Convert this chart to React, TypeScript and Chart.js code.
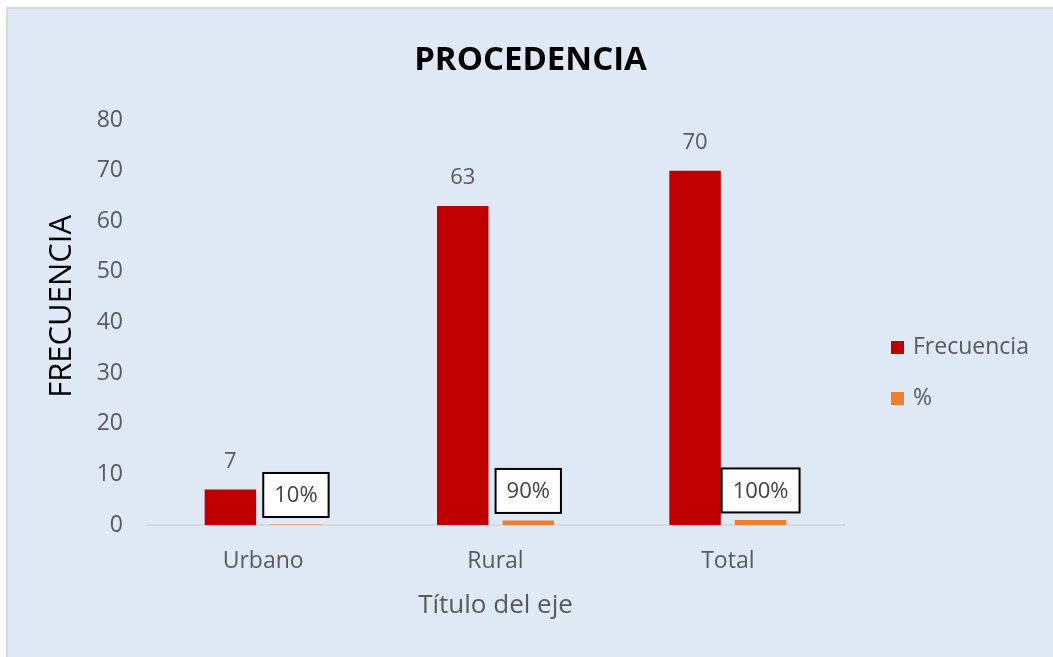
import React, { useEffect, useRef } from "react";
import { Chart, registerables } from "chart.js";

Chart.register(...registerables);

const categories = ["Urbano", "Rural", "Total"];
const frecuencia = [7, 63, 70];
const porcentaje = [0.1, 0.9, 1.0];
const seriesNames = ["Frecuencia", "%"];
const seriesColors = ["#c00000", "#ed7d31"];
const yTicksMax = 80;
const yTicksStep = 10;

const FONT = "'Open Sans', sans-serif";

const labelsPlugin = {
  id: "valueLabels",
  afterDatasetsDraw(chart: any) {
    const ctx = chart.ctx;
    ctx.save();
    ctx.font = `22px ${FONT}`;
    ctx.textAlign = "center";
    ctx.textBaseline = "middle";
    const m0 = chart.getDatasetMeta(0);
    m0.data.forEach((bar: any, i: number) => {
      ctx.fillStyle = "#595959";
      ctx.fillText(String(chart.data.datasets[0].data[i]), bar.x, bar.y - 28);
    });
    const m1 = chart.getDatasetMeta(1);
    m1.data.forEach((bar: any, i: number) => {
      const v = chart.data.datasets[1].data[i] as number;
      const txt = `${Math.round(v * 100)}%`;
      const w = ctx.measureText(txt).width + 22;
      const h = 44;
      const cy = bar.y - 29.5;
      ctx.fillStyle = "#ffffff";
      ctx.fillRect(bar.x - w / 2, cy - h / 2, w, h);
      ctx.lineWidth = 2;
      ctx.strokeStyle = "#000000";
      ctx.strokeRect(bar.x - w / 2, cy - h / 2, w, h);
      ctx.fillStyle = "#404040";
      ctx.fillText(txt, bar.x, cy + 1);
    });
    ctx.restore();
  },
};

const legendPlugin = {
  id: "sideLegend",
  afterDraw(chart: any) {
    const ctx = chart.ctx;
    const area = chart.chartArea;
    const midY = (area.top + area.bottom) / 2;
    ctx.save();
    ctx.font = `23px ${FONT}`;
    ctx.textAlign = "left";
    ctx.textBaseline = "middle";
    chart.data.datasets.forEach((ds: any, i: number) => {
      const cy = midY + 25 + i * 51;
      const x = area.right + 47;
      ctx.fillStyle = ds.backgroundColor;
      ctx.fillRect(x, cy - 6.5, 13, 13);
      ctx.fillStyle = "#595959";
      ctx.fillText(ds.label, x + 22, cy);
    });
    ctx.restore();
  },
};

export default function App() {
  const ref = useRef<HTMLCanvasElement>(null);
  useEffect(() => {
    if (!ref.current) return;
    const chart = new Chart(ref.current, {
      type: "bar",
      data: {
        labels: categories,
        datasets: [
          {
            label: seriesNames[0],
            data: frecuencia,
            backgroundColor: seriesColors[0],
            categoryPercentage: 0.564,
            barPercentage: 0.786,
          },
          {
            label: seriesNames[1],
            data: porcentaje,
            backgroundColor: seriesColors[1],
            categoryPercentage: 0.564,
            barPercentage: 0.786,
          },
        ],
      },
      options: {
        animation: false,
        responsive: true,
        maintainAspectRatio: false,
        layout: { padding: 0 },
        plugins: {
          legend: { display: false },
          tooltip: { enabled: false },
          title: {
            display: true,
            text: "PROCEDENCIA",
            color: "#000000",
            font: { family: FONT, size: 33, weight: "bold", lineHeight: 1.2 },
            padding: { top: 32, bottom: 39.4 },
          },
        },
        scales: {
          x: {
            z: 1,
            grid: { display: true, color: "rgba(0,0,0,0)", drawTicks: false },
            border: { display: true, color: "#d9d9d9", width: 2 },
            ticks: {
              color: "#595959",
              font: { family: FONT, size: 23 },
              padding: 23,
            },
            title: {
              display: true,
              text: "Título del eje",
              color: "#595959",
              font: { family: FONT, size: 26, lineHeight: 1.2 },
              padding: { top: 0, bottom: 35.4 },
            },
            afterFit: (s: any) => {
              s.height = 132;
            },
          },
          y: {
            min: 0,
            max: yTicksMax,
            grid: { display: false, drawTicks: false },
            border: { display: false },
            ticks: {
              stepSize: yTicksStep,
              color: "#595959",
              font: { family: FONT, size: 23 },
              padding: 24,
            },
            title: {
              display: true,
              text: "    FRECUENCIA",
              color: "#000000",
              font: { family: FONT, size: 31, lineHeight: 1.2 },
              padding: { top: 35.4, bottom: 0 },
            },
            afterFit: (s: any) => {
              s.width = 139;
            },
          },
          legendSpace: {
            type: "linear",
            position: "right",
            display: true,
            grid: { display: false, drawTicks: false },
            border: { display: false },
            ticks: { display: false },
            afterFit: (s: any) => {
              s.width = 209;
            },
          },
        },
      },
      plugins: [labelsPlugin, legendPlugin],
    });
    return () => chart.destroy();
  }, []);

  return (
    <div
      style={{
        position: "fixed",
        left: 6,
        top: 7,
        width: 1047,
        height: 650,
        boxSizing: "border-box",
        borderLeft: "2px solid #d9d9d9",
        borderTop: "2px solid #d9d9d9",
        background: "#dee9f5",
      }}
    >
      <div style={{ position: "relative", width: 1045, height: 648 }}>
        <canvas ref={ref} />
      </div>
    </div>
  );
}
